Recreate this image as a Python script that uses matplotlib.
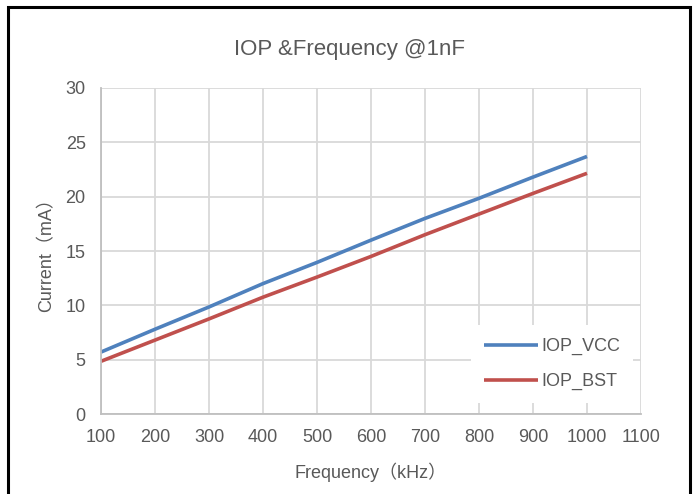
import matplotlib
matplotlib.use("Agg")
import matplotlib.pyplot as plt
from matplotlib.patches import Rectangle

freq = [100, 200, 300, 400, 500, 600, 700, 800, 900, 1000]
iop_vcc = [5.7, 7.8, 9.85, 12.0, 13.95, 16.0, 18.0, 19.85, 21.8, 23.7]
iop_bst = [4.85, 6.8, 8.75, 10.75, 12.6, 14.5, 16.5, 18.4, 20.3, 22.15]
xticks = [100, 200, 300, 400, 500, 600, 700, 800, 900, 1000, 1100]
yticks = [0, 5, 10, 15, 20, 25, 30]

plt.rcParams['font.family'] = ['Liberation Sans', 'Noto Sans CJK SC', 'DejaVu Sans']
txt = '#595959'
grid = '#d9d9d9'

fig = plt.figure(figsize=(6.95, 4.94), dpi=100)
ax = fig.add_axes([101/695, 1-414/494, 540/695, (414-88)/494])

ax.plot(freq, iop_vcc, color='#4F81BD', lw=2.6, label='IOP_VCC', solid_capstyle='butt')
ax.plot(freq, iop_bst, color='#C0504D', lw=2.6, label='IOP_BST', solid_capstyle='butt')

ax.set_xlim(100, 1100)
ax.set_ylim(0, 30)
ax.set_xticks(xticks)
ax.set_yticks(yticks)
ax.grid(True, color=grid, lw=1.3)
ax.set_axisbelow(True)
for s in ['top', 'right']:
    ax.spines[s].set_visible(False)
for s in ['left', 'bottom']:
    ax.spines[s].set_color('#bfbfbf')
    ax.spines[s].set_linewidth(1.3)
ax.tick_params(length=0, labelsize=13, colors=txt)
ax.tick_params(axis='x', pad=11)
ax.tick_params(axis='y', pad=11)

fig.text(349/695, 1 - 50/494, 'IOP &Frequency @1nF', fontsize=16, color=txt,
         ha='center', va='center')
ax.set_xlabel('Frequency（kHz）', fontsize=13, color=txt, labelpad=12)
ax.set_ylabel('Current（mA）', fontsize=13, color=txt, labelpad=7)

leg = ax.legend(loc='lower left', bbox_to_anchor=(0.685, 0.034), fontsize=13,
                frameon=True, fancybox=False, handlelength=3.0, handletextpad=0.22,
                labelspacing=1.0, borderpad=0.7, borderaxespad=0)
leg.get_frame().set_facecolor('white')
leg.get_frame().set_edgecolor('none')
leg.get_frame().set_alpha(1)
for t in leg.get_texts():
    t.set_color(txt)

fig.patches.append(Rectangle((8/695, -0.05), 682/695, 1.05 - 7/494, transform=fig.transFigure,
                             fill=False, edgecolor='black', lw=2.2, clip_on=False))

fig.savefig('out.png', dpi=100)
